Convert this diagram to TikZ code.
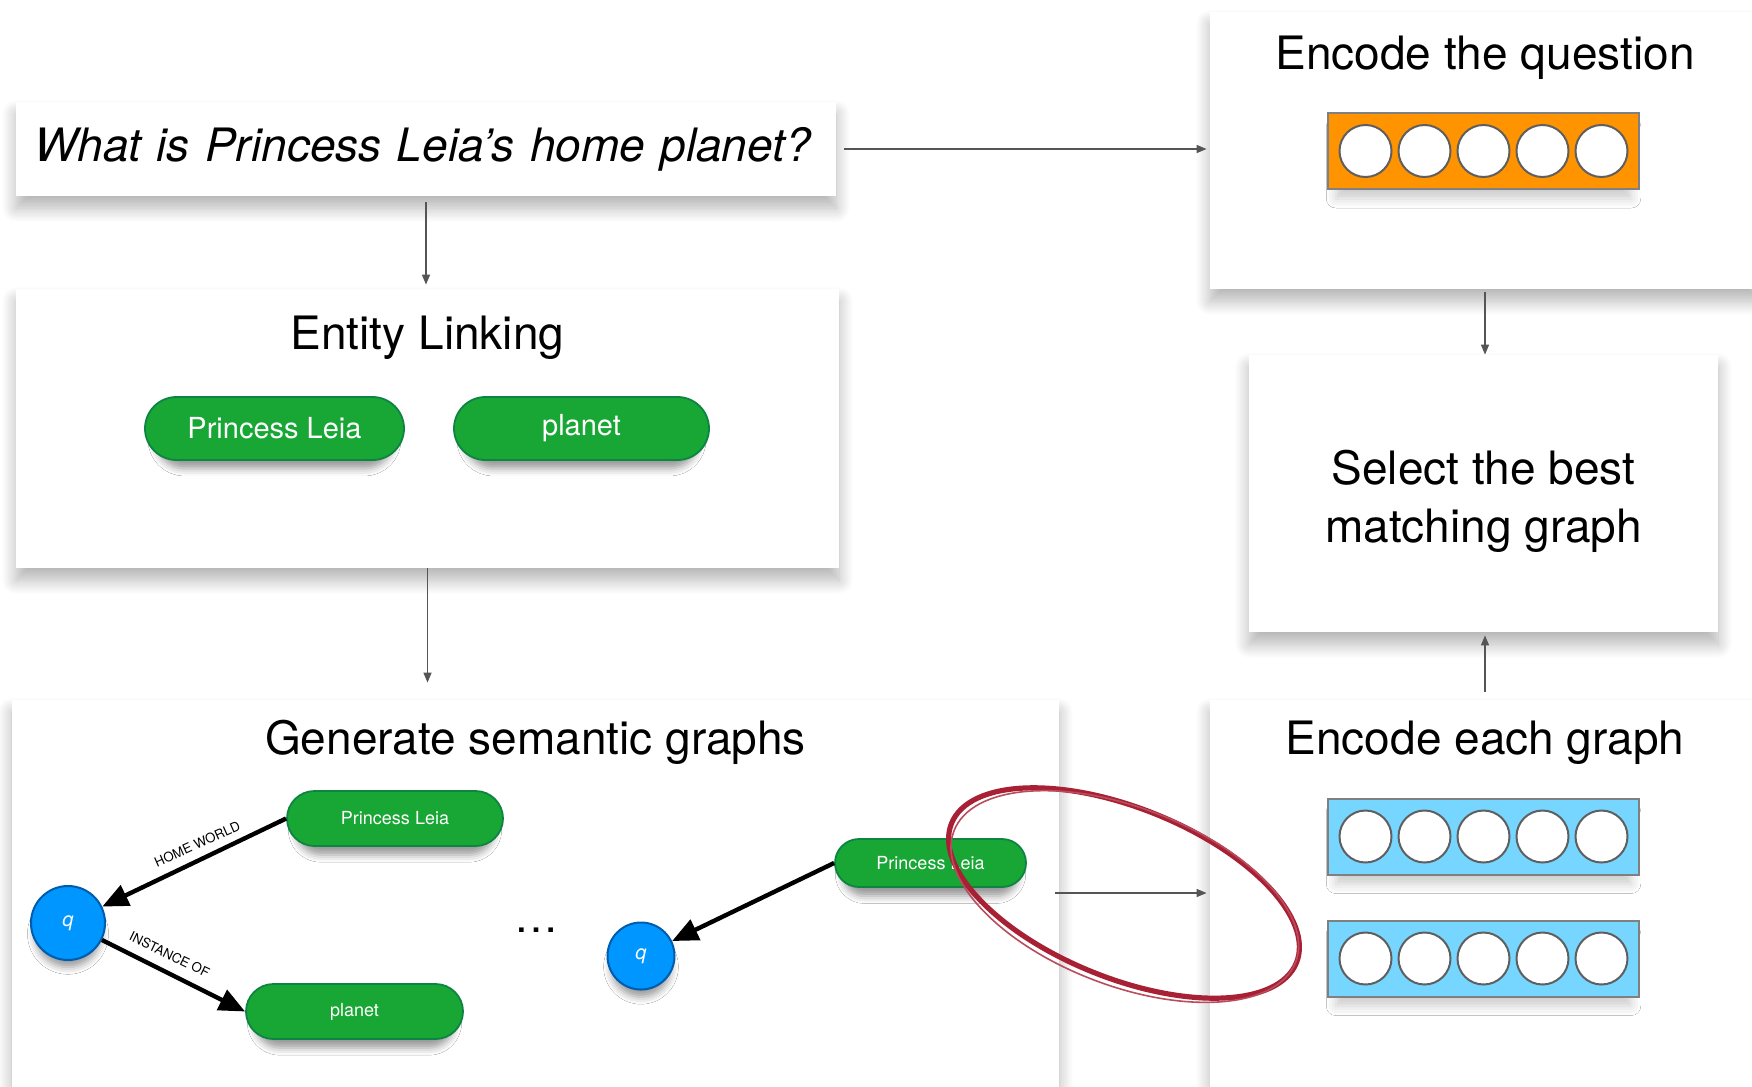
\documentclass[tikz,border=0pt]{standalone}
\usepackage{fontspec}
\setmainfont{TeX Gyre Heros}
\usetikzlibrary{positioning,calc,arrows.meta,shapes.misc,shadows.blur}

\definecolor{pillgreen}{RGB}{24,166,52}
\definecolor{pillline}{RGB}{14,132,68}
\definecolor{qblue}{RGB}{0,150,255}
\definecolor{qline}{RGB}{0,92,172}
\definecolor{vecorange}{RGB}{255,147,0}
\definecolor{vecblue}{RGB}{118,214,255}
\definecolor{vecline}{RGB}{128,128,128}
\definecolor{cellline}{RGB}{95,95,95}
\definecolor{markred}{RGB}{168,32,52}
\definecolor{flowgray}{RGB}{85,85,85}

\tikzset{
  panel/.style={rectangle, fill=white, inner sep=0pt,
    blur shadow={shadow xshift=0pt, shadow yshift=-6pt, shadow opacity=30, shadow blur radius=7pt, shadow blur steps=12}},
  title/.style={anchor=base, inner sep=0pt, font=\fontsize{23}{29}\selectfont},
  pill/.style={rounded rectangle, fill=pillgreen, draw=pillline, line width=0.9pt, text=white, inner sep=0pt,
    blur shadow={shadow xshift=0pt, shadow yshift=-6pt, shadow opacity=40, shadow blur radius=4pt, shadow scale=0.92}},
  qnode/.style={circle, fill=qblue, draw=qline, line width=1pt, text=white, inner sep=0pt,
    font=\itshape\fontsize{10}{12}\selectfont,
    blur shadow={shadow xshift=0pt, shadow yshift=-6pt, shadow opacity=40, shadow blur radius=4pt, shadow scale=0.9}},
  vecbox/.style={rectangle, draw=vecline, line width=1pt, minimum width=155.5pt, minimum height=38pt, inner sep=0pt,
    blur shadow={shadow xshift=0pt, shadow yshift=-6pt, shadow opacity=20, shadow blur radius=5pt, shadow scale=0.95}},
  cell/.style={circle, fill=white, draw=cellline, line width=1pt, minimum size=26pt, inner sep=0pt},
  flow/.style={draw=flowgray, line width=0.7pt, -{Triangle[length=5pt,width=4pt]}},
  rel/.style={draw=black, line width=2.2pt, -{Triangle[length=13pt,width=11pt]}},
  rellabel/.style={font=\fontsize{6.6}{7}\selectfont, anchor=south, inner sep=4pt},
}

\begin{document}
\begin{tikzpicture}[x=0.5pt,y=0.5pt,yscale=-1]
\useasboundingbox (0,0) rectangle (1752,1087);

% question
\node[panel, minimum width=410pt, minimum height=47pt, text width=392pt, inner xsep=9pt, align=left,
  font=\itshape\fontsize{23}{28}\selectfont] (quest) at (426,149) {What is Princess Leia’s home planet?};

% entity linking
\node[panel, minimum width=411.5pt, minimum height=139.5pt] (link) at (427.5,428.5) {};
\node[title] (linkt) at ($(link.north)+(0,61)$) {Entity Linking};
\node[pill, minimum width=129.5pt, minimum height=31.5pt, font=\fontsize{14.5}{17}\selectfont] (ent1) at (274.5,428.5) {Princess Leia};
\node[pill, minimum width=127.5pt, minimum height=31.5pt, font=\fontsize{14.5}{17}\selectfont] (ent2) at (581.5,428.5) {planet};

% semantic graphs
\node[panel, minimum width=523.5pt, minimum height=200pt] (gen) at (535.5,900) {};
\node[title] (gent) at ($(gen.north)+(0,55)$) {Generate semantic graphs};

\node[qnode, minimum size=37pt] (q1) at (68,923) {q};
\node[pill, minimum width=108pt, minimum height=27.5pt, font=\fontsize{9}{11}\selectfont] (pl1) at (395,818.5) {Princess Leia};
\node[pill, minimum width=108.5pt, minimum height=27.5pt, font=\fontsize{9}{11}\selectfont] (pn1) at (354.5,1011.5) {planet};
\draw[rel] (pl1.west) -- node[rellabel, pos=0.45, rotate=24] {HOME WORLD} (q1);
\draw[rel] (q1) -- node[rellabel, pos=0.42, rotate=-26, inner sep=5pt] {INSTANCE OF} (pn1.west);

\node[font=\fontsize{22}{24}\selectfont] (more) at (536,930) {\ldots};

\node[qnode, minimum size=33.5pt] (q2) at (641,956) {q};
\node[pill, minimum width=95.5pt, minimum height=24pt, font=\fontsize{9}{11}\selectfont] (pl2) at (930.5,863) {Princess Leia};
\draw[rel] (pl2.west) -- (q2);

% encode the question
\node[panel, minimum width=275pt, minimum height=138.5pt] (encq) at (1485,150.5) {};
\node[title] (encqt) at ($(encq.north)+(0,58)$) {Encode the question};
\node[vecbox, fill=vecorange] (qvec) at (1483.5,151) {};
\foreach \i in {-2,...,2}
  \node[cell] (qc\i) at ($(qvec)+(\i*59,0)$) {};

% select
\node[panel, minimum width=234.5pt, minimum height=138.5pt] (sel) at (1483.5,493.5) {};
\node[align=center, inner sep=0pt, font=\fontsize{23}{29}\selectfont] (selt) at ($(sel.center)+(0,8)$) {Select the best\\matching graph};

% encode each graph
\node[panel, minimum width=275pt, minimum height=200pt] (each) at (1485,900) {};
\node[title] (eacht) at ($(each.north)+(0,55)$) {Encode each graph};
\node[vecbox, fill=vecblue] (gvec1) at (1483.5,836.5) {};
\node[vecbox, fill=vecblue] (gvec2) at (1483.5,958.5) {};
\foreach \i in {-2,...,2} {
  \node[cell] (ga\i) at ($(gvec1)+(\i*59,0)$) {};
  \node[cell] (gb\i) at ($(gvec2)+(\i*59,0)$) {};
}

% hand drawn ring
\coordinate (ring) at (1124,893);
\draw[markred, line width=2.6pt, rotate around={22:(ring)}] (ring) ellipse [x radius=186, y radius=85];
\draw[markred!80, line width=0.8pt, rotate around={21:(ring)}] ($(ring)+(2,3)$) ellipse [x radius=183, y radius=89];

% flow
\draw[flow, shorten <=3pt, shorten >=2pt] (quest.south) -- (quest.south |- link.north);
\draw[flow, shorten >=8.5pt] (link.south) -- (link.south |- gen.north);
\draw[flow, shorten <=4pt, shorten >=1.5pt] (quest.east) -- (quest.east -| encq.west);
\draw[flow, shorten <=1.5pt] (encq.south) -- (encq.south |- sel.north);
\draw[flow, shorten <=4pt, shorten >=1.5pt] (each.north) -- (each.north |- sel.south);
\draw[flow, shorten <=-2pt, shorten >=1.5pt] (gen.east |- ring) -- (each.west |- ring);

\end{tikzpicture}
\end{document}
